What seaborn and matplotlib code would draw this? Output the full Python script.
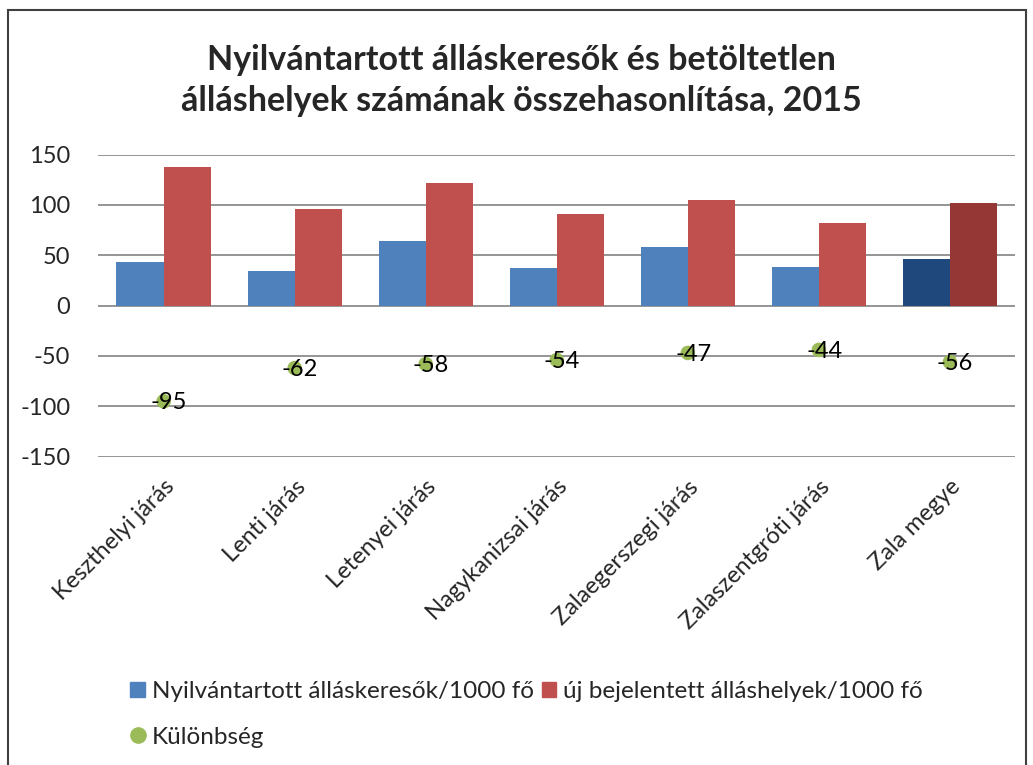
"""Álláskeresők és betöltetlen álláshelyek összehasonlítása, 2015."""
import pandas as pd
import matplotlib
matplotlib.use('Agg')
import matplotlib.pyplot as plt
from matplotlib.lines import Line2D
from matplotlib.patches import Patch, Rectangle
import seaborn as sns

# Data
categories = ["Keszthelyi járás", "Lenti járás", "Letenyei járás", "Nagykanizsai járás",
              "Zalaegerszegi járás", "Zalaszentgróti járás", "Zala megye"]
allaskeresok = [43, 34, 64, 37, 58, 38, 46]
allashelyek = [138, 96, 122, 91, 105, 82, 102]
kulonbseg = [-95, -62, -58, -54, -47, -44, -56]

series_names = ["Nyilvántartott álláskeresők/1000 fő", "új bejelentett álláshelyek/1000 fő"]
diff_name = "Különbség"
title = "Nyilvántartott álláskeresők és betöltetlen\nálláshelyek számának összehasonlítása, 2015"

BLUE, RED, GREEN = "#4F81BD", "#C0504D", "#9BBB59"
DARK_BLUE, DARK_RED = "#1F497D", "#953735"

df = pd.DataFrame({
    "kategoria": categories * 2,
    "ertek": allaskeresok + allashelyek,
    "sorozat": [series_names[0]] * len(categories) + [series_names[1]] * len(categories),
})

sns.set_theme(style="white")
plt.rcParams['font.family'] = ['Lato', 'DejaVu Sans']
plt.rcParams['axes.unicode_minus'] = False

fig = plt.figure(figsize=(10.33, 7.65), dpi=100)
ax = fig.add_axes([0.095, 0.403, 0.888, 0.395])

sns.barplot(data=df, x="kategoria", y="ertek", hue="sorozat", order=categories,
            hue_order=series_names, palette=[BLUE, RED], width=0.72,
            saturation=1, legend=False, linewidth=0, ax=ax)

# Zala megye bars are drawn darker in the original
ax.containers[0][-1].set_facecolor(DARK_BLUE)
ax.containers[1][-1].set_facecolor(DARK_RED)

sns.scatterplot(x=categories, y=kulonbseg, color=GREEN, s=110, edgecolor="none",
                ax=ax, zorder=3)
for i, v in enumerate(kulonbseg):
    ax.text(i + 0.04, v - 1.5, f"{v}", ha="center", va="center", fontsize=17,
            color="black", zorder=4)

ax.set_ylim(-150, 150)
ax.set_yticks(range(-150, 151, 50))
ax.set_xlim(-0.5, len(categories) - 0.5)
ax.yaxis.grid(True, color="#8C8C8C", linewidth=1.3)
ax.set_axisbelow(True)
for s in ax.spines.values():
    s.set_visible(False)
ax.set_xlabel("")
ax.set_ylabel("")
ax.tick_params(axis="y", labelsize=17, pad=20, length=0)
ax.tick_params(axis="x", labelsize=17, pad=14, length=0)
plt.setp(ax.get_xticklabels(), rotation=45, ha="right", rotation_mode="anchor")

fig.text(0.505, 0.895, title, ha="center", va="center", fontsize=24.5,
         fontweight="bold", linespacing=1.35)

handles = [Patch(color=BLUE), Line2D([], [], marker="o", color=GREEN, linestyle="none", markersize=11),
           Patch(color=RED)]
labels = [series_names[0], diff_name, series_names[1]]
fig.legend(handles, labels, ncol=2, loc="upper left", bbox_to_anchor=(0.105, 0.138),
           frameon=False, fontsize=17.5, handlelength=0.6, handleheight=0.6,
           handletextpad=0.3, columnspacing=0.3, labelspacing=1.0)

fig.add_artist(Rectangle((0.008, -0.1), 0.985, 1.087, transform=fig.transFigure,
                         fill=False, edgecolor="#404040", linewidth=1.5))

fig.savefig("out.png", dpi=100)
